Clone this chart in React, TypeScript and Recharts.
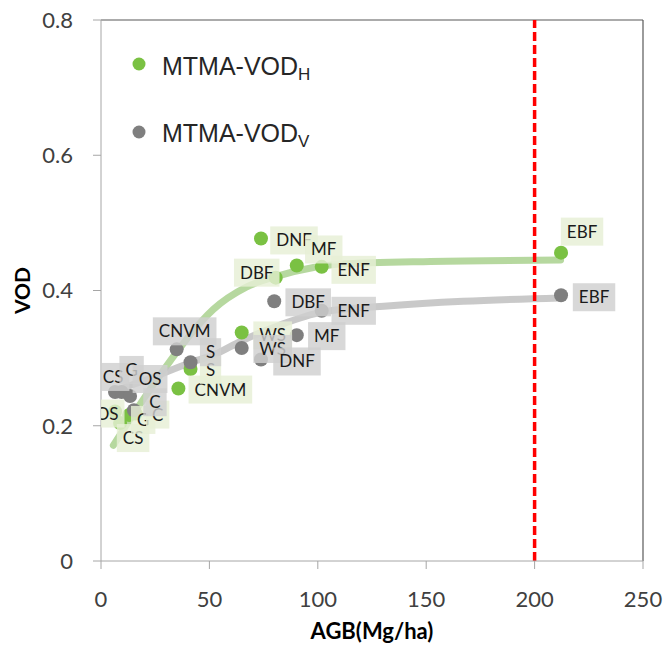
import React from 'react';
import {
  ComposedChart,
  Scatter,
  Line,
  XAxis,
  YAxis,
  ReferenceLine,
  Legend,
  Label,
} from 'recharts';

// land-cover classes, same order for both series
const classes = ['CS', 'G', 'OS', 'C', 'CNVM', 'S', 'WS', 'DNF', 'DBF', 'MF', 'ENF', 'EBF'];

// MTMA-VOD_H
const agbH = [8.8, 13, 6.5, 16, 35.7, 41.3, 64.9, 73.8, 80.6, 90.3, 101.8, 212.2];
const vodH = [0.204, 0.216, 0.221, 0.218, 0.255, 0.284, 0.338, 0.477, 0.419, 0.437, 0.435, 0.456];

// MTMA-VOD_V
const agbV = [6.5, 9.5, 13.4, 15.2, 34.9, 41.3, 64.9, 73.8, 79.9, 90.3, 101.8, 212.2];
const vodV = [0.25, 0.25, 0.244, 0.223, 0.313, 0.294, 0.315, 0.298, 0.384, 0.334, 0.37, 0.393];

// fitted curves
const fitAgbH = [5.7, 21, 36.4, 41, 51.8, 67, 81, 98, 110, 152, 212];
const fitVodH = [0.171, 0.246, 0.315, 0.334, 0.372, 0.405, 0.421, 0.434, 0.439, 0.443, 0.445];
const fitAgbV = [4.9, 21, 41.8, 51.8, 64.6, 82.6, 101.8, 132, 167, 212];
const fitVodV = [0.25, 0.268, 0.294, 0.3045, 0.325, 0.349, 0.368, 0.377, 0.384, 0.389];

const xTicks = [0, 50, 100, 150, 200, 250];
const yTicks = [0, 0.2, 0.4, 0.6, 0.8];
const agbLimit = 200;

// label placement relative to each dot (dx, dy of text centre)
const labelOffsetH: Record<string, [number, number]> = {
  CS: [13, 15], G: [14, 5], OS: [-8, 2], C: [22, 1], CNVM: [42, 1], S: [20, 1],
  WS: [31, 3], DNF: [33, 2], DBF: [-19, -5], MF: [27, -16], ENF: [32, 3], EBF: [21, -21],
};
const labelOffsetV: Record<string, [number, number]> = {
  CS: [-2, -15], G: [10, -22], OS: [20, -17], C: [21, -8], CNVM: [8, -18], S: [20, -10],
  WS: [31, 1], DNF: [36, 2], DBF: [34, 1], MF: [30, 1], ENF: [32, 0], EBF: [33, 2],
};

const GREEN = '#7ac143';
const GRAY = '#7f7f7f';

const dataH = classes.map((c, i) => ({ name: c, x: agbH[i], y: vodH[i] }));
const dataV = classes.map((c, i) => ({ name: c, x: agbV[i], y: vodV[i] }));
const fitH = fitAgbH.map((x, i) => ({ x, y: fitVodH[i] }));
const fitV = fitAgbV.map((x, i) => ({ x, y: fitVodV[i] }));

const LABEL_FONT = '17px Lato';
const ctx = typeof document !== 'undefined' ? document.createElement('canvas').getContext('2d') : null;
const textWidth = (s: string) => {
  if (!ctx) return s.length * 11;
  ctx.font = LABEL_FONT;
  return ctx.measureText(s).width;
};

const dot = (fill: string) => (p: any) => (
  <circle cx={p.cx} cy={p.cy} r={7} fill={fill} />
);

const labelBox = (offsets: Record<string, [number, number]>, fill: string) => (p: any) => {
  const name = p.payload?.name ?? '';
  const [dx, dy] = offsets[name] || [20, 0];
  const tx = p.cx + dx;
  const ty = p.cy + dy;
  const w = textWidth(name) + 12;
  const h = 28;
  return (
    <g>
      <rect x={tx - w / 2} y={ty - h / 2} width={w} height={h} fill={fill} fillOpacity={0.82} />
      <text
        x={tx}
        y={ty + 6}
        textAnchor="middle"
        fontFamily="Lato"
        fontSize={17}
        fill="#1a1a1a"
      >
        {name}
      </text>
    </g>
  );
};

const LegendContent = () => (
  <svg width={320} height={160} style={{ display: 'block' }}>
    <circle cx={139} cy={64} r={6.5} fill={GREEN} />
    <text x={162} y={75} fontFamily="Liberation Sans, Arial" fontSize={25} fill="#262626">
      MTMA-VOD<tspan dy={5} fontSize={17}>H</tspan>
    </text>
    <circle cx={139} cy={132} r={6.5} fill={GRAY} />
    <text x={162} y={142} fontFamily="Liberation Sans, Arial" fontSize={25} fill="#262626">
      MTMA-VOD<tspan dy={5} fontSize={17}>V</tspan>
    </text>
  </svg>
);

const tickStyle = { fontFamily: 'Lato', fontSize: 22, fill: '#404040' };

export default function App() {
  return (
    <div style={{ position: 'absolute', left: 0, top: 0, width: 666, height: 645, background: '#fff' }}>
      <ComposedChart width={666} height={645} margin={{ top: 20, right: 23, bottom: 0, left: 0 }}>
        <XAxis
          type="number"
          dataKey="x"
          domain={[0, 250]}
          ticks={xTicks}
          height={84}
          tickSize={8}
          tickMargin={22}
          stroke="#a6a6a6"
          tick={tickStyle}
          allowDataOverflow
        >
          <Label
            content={(p: any) => {
              const vb = p.viewBox;
              return (
                <text
                  x={vb.x + vb.width / 2}
                  y={vb.y + vb.height - 6}
                  textAnchor="middle"
                  fontFamily="Lato"
                  fontWeight="bold"
                  fontSize={22}
                  fill="#000"
                >
                  AGB(Mg/ha)
                </text>
              );
            }}
          />
        </XAxis>
        <YAxis
          type="number"
          dataKey="y"
          domain={[0, 0.8]}
          ticks={yTicks}
          width={101}
          tickSize={8}
          tickMargin={20}
          stroke="#a6a6a6"
          tick={tickStyle}
          allowDataOverflow
        >
          <Label
            content={(p: any) => {
              const vb = p.viewBox;
              const cx = vb.x + 21;
              const cy = vb.y + vb.height / 2;
              return (
                <text
                  x={cx}
                  y={cy}
                  transform={`rotate(-90, ${cx}, ${cy})`}
                  textAnchor="middle"
                  dominantBaseline="central"
                  fontFamily="Lato"
                  fontWeight="bold"
                  fontSize={21}
                  fill="#000"
                >
                  VOD
                </text>
              );
            }}
          />
        </YAxis>

        {/* plot frame, top and right */}
        <ReferenceLine y={0.8} stroke="#595959" strokeWidth={1.2} />
        <ReferenceLine x={250} stroke="#595959" strokeWidth={1.2} />

        <Legend
          layout="vertical"
          align="center"
          verticalAlign="middle"
          content={<LegendContent />}
          wrapperStyle={{ left: 0, top: 0, width: 320, height: 160 }}
        />

        <Line
          data={fitH}
          dataKey="y"
          type="monotone"
          stroke="#a9d18e"
          strokeOpacity={0.85}
          strokeWidth={7}
          strokeLinecap="round"
          dot={false}
          activeDot={false}
          legendType="none"
          isAnimationActive={false}
        />
        <Line
          data={fitV}
          dataKey="y"
          type="monotone"
          stroke="#bfbfbf"
          strokeOpacity={0.85}
          strokeWidth={7}
          strokeLinecap="round"
          dot={false}
          activeDot={false}
          legendType="none"
          isAnimationActive={false}
        />

        <ReferenceLine x={agbLimit} stroke="#ff0000" strokeWidth={3.5} strokeDasharray="9 4" />

        <Scatter data={dataH} shape={dot(GREEN)} isAnimationActive={false} legendType="none" />
        <Scatter data={dataV} shape={dot(GRAY)} isAnimationActive={false} legendType="none" />
        <Scatter data={dataH} shape={labelBox(labelOffsetH, '#e6efd6')} isAnimationActive={false} legendType="none" />
        <Scatter data={dataV} shape={labelBox(labelOffsetV, '#d0d0d0')} isAnimationActive={false} legendType="none" />
      </ComposedChart>
    </div>
  );
}
